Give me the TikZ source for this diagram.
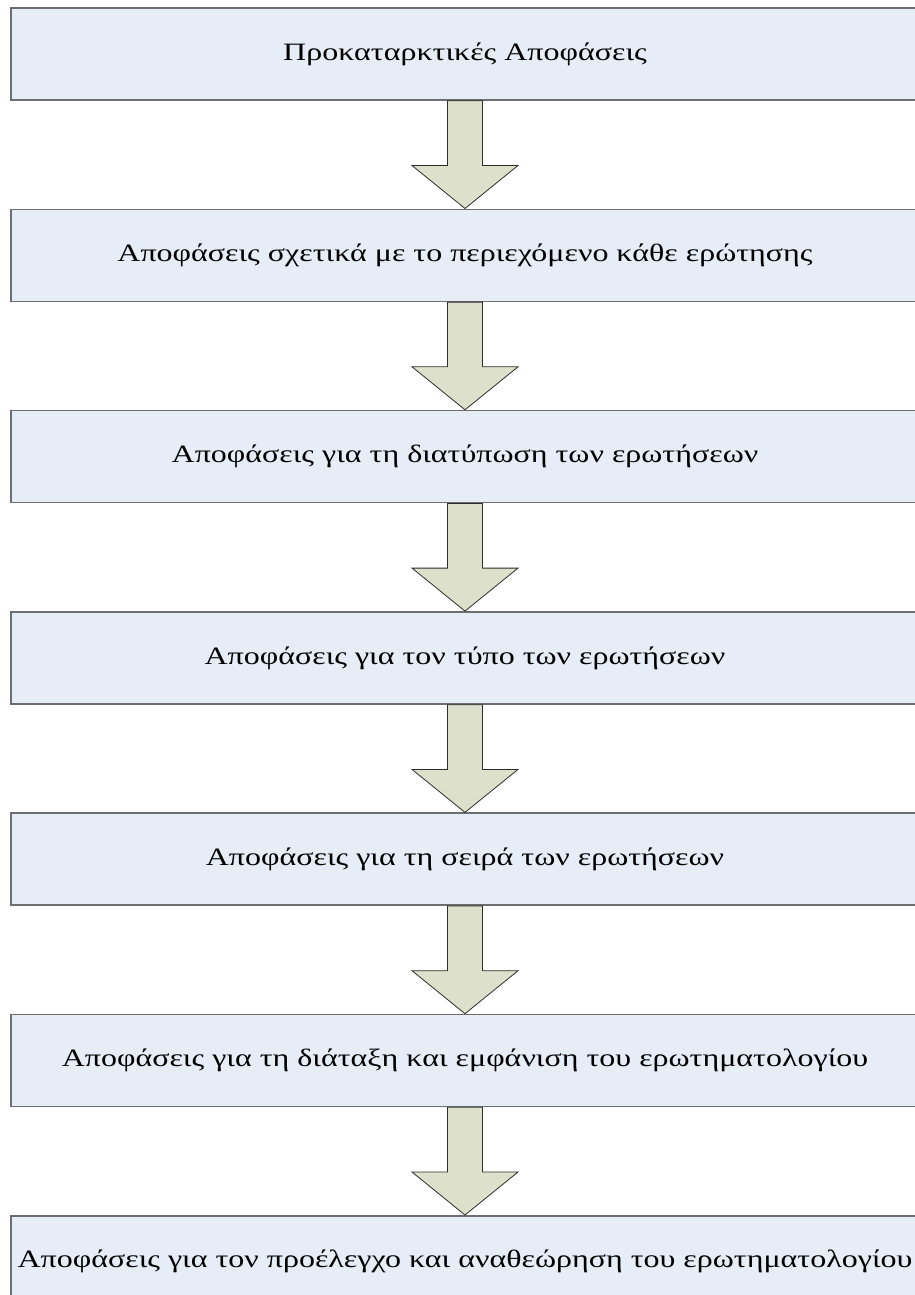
\documentclass[tikz,border=0pt]{standalone}
\usepackage{fontspec}
\setmainfont{Liberation Serif}[FakeStretch=1.28]
\usetikzlibrary{positioning,calc}
\definecolor{boxfill}{RGB}{230,237,247}
\definecolor{boxline}{RGB}{110,110,110}
\definecolor{arrowfill}{RGB}{221,225,203}
\definecolor{arrowline}{RGB}{45,45,45}

\begin{document}
\begin{tikzpicture}[x=1pt, y=-1pt,
    stepbox/.style={draw=boxline, line width=1.6pt, fill=boxfill,
        minimum width=908pt, minimum height=92pt, inner sep=0pt,
        font=\fontsize{25}{30}\selectfont},
    flowarrow/.style={draw=arrowline, line width=0.8pt, fill=arrowfill}]
    \useasboundingbox (0,0) rectangle (915,1295);
    \clip (0,0) rectangle (915,1295);

    % Steps
    \node[stepbox] (s1) at (465,54) {Προκαταρκτικές Αποφάσεις};
    \node[stepbox, below=107.7pt of s1] (s2) {Αποφάσεις σχετικά με το περιεχόμενο κάθε ερώτησης};
    \node[stepbox, below=107.7pt of s2] (s3) {Αποφάσεις για τη διατύπωση των ερωτήσεων};
    \node[stepbox, below=107.7pt of s3] (s4) {Αποφάσεις για τον τύπο των ερωτήσεων};
    \node[stepbox, below=107.7pt of s4] (s5) {Αποφάσεις για τη σειρά των ερωτήσεων};
    \node[stepbox, below=107.7pt of s5] (s6) {Αποφάσεις για τη διάταξη και εμφάνιση του ερωτηματολογίου};
    \node[stepbox, below=107.7pt of s6] (s7) {Αποφάσεις για τον προέλεγχο και αναθεώρηση του ερωτηματολογίου};

    % Block arrows
    \foreach \a/\b in {s1/s2, s2/s3, s3/s4, s4/s5, s5/s6, s6/s7}
        \draw[flowarrow] ($(\a.south)+(-17.5,0)$) -- ($(\a.south)+(17.5,0)$)
            -- ($(\b.north)+(17.5,-43)$) -- ($(\b.north)+(53,-43)$) -- (\b.north)
            -- ($(\b.north)+(-53,-43)$) -- ($(\b.north)+(-17.5,-43)$) -- cycle;
\end{tikzpicture}
\end{document}
